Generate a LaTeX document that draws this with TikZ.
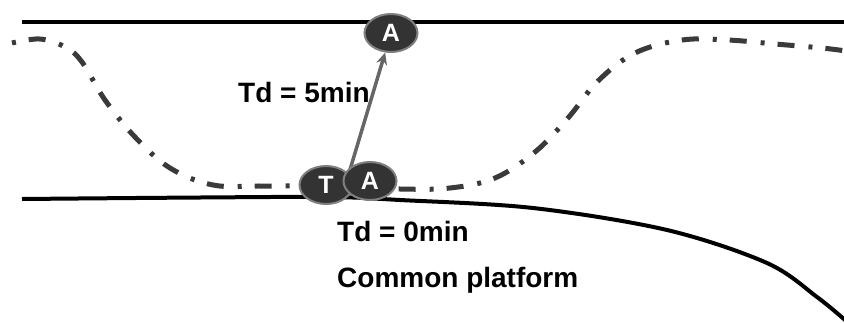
\documentclass[tikz,border=0pt]{standalone}
\usepackage{fontspec}
\setmainfont{Liberation Sans}
\usetikzlibrary{arrows.meta,shapes.geometric}
\definecolor{nodefill}{HTML}{333333}
\definecolor{noderim}{HTML}{808080}
\definecolor{curvegray}{HTML}{3A3A3A}
\definecolor{arrowgray}{HTML}{666666}
\tikzset{
  agent/.style={ellipse, fill=nodefill, draw=noderim, line width=2pt,
    minimum width=53pt, minimum height=38pt, inner sep=0pt,
    text=white, font=\fontsize{25}{25}\selectfont\bfseries},
  lbl/.style={anchor=base west, inner sep=0pt, font=\fontsize{28}{28}\selectfont\bfseries},
  solidline/.style={line width=3.5pt, black},
  trackline/.style={line width=5pt, curvegray, dash pattern=on 4pt off 13pt on 17pt off 14pt},
  movearrow/.style={line width=3.5pt, arrowgray, -{Stealth[length=12pt,width=11pt]}}
}
\begin{document}
\begin{tikzpicture}[x=1pt,y=-1pt]
\useasboundingbox (0,0) rectangle (844,322);
% top line
\coordinate (tl) at (22,22);
\coordinate (tr) at (844,22);
\draw[solidline] (tl) -- (tr);
% common platform line
\draw[solidline, line width=4pt] plot[smooth, tension=0.55] coordinates {(22,199) (200,197.5) (330,197) (400,200) (533,208) (667,230) (767,263) (817,297) (845,320)};
% dash-dot track
\draw[trackline] plot[smooth, tension=0.6] coordinates {(12,43) (40,39) (65,47) (82,62) (105,100) (135,137) (170,168) (213,185) (262,186) (330,186) (400,189) (450,188) (495,178) (535,152) (568,118) (598,81) (635,53) (682,40) (728,40) (775,44) (822,48) (846,51)};
% arrow start
\coordinate (s) at (346,183);
% nodes
\node[agent] (T) at (326,185) {T};
\node[agent] (A1) at (391,33) {A};
\draw[movearrow] (s) -- (A1);
\node[agent] (A0) at (370,181) {A};
% labels
\node[lbl] (l5) at (238,102) {Td = 5min};
\node[lbl] (l0) at (337,241) {Td = 0min};
\node[lbl] (lc) at (337,287) {Common platform};
\end{tikzpicture}
\end{document}
